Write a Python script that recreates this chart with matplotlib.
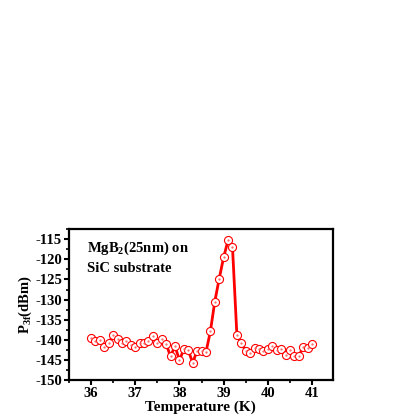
import matplotlib
matplotlib.use("Agg")
import matplotlib.pyplot as plt
from matplotlib.ticker import MultipleLocator

temperature = [36.0, 36.1, 36.2, 36.3, 36.4, 36.5, 36.6, 36.7, 36.8, 36.9,
               37.0, 37.1, 37.2, 37.3, 37.4, 37.5, 37.6, 37.7, 37.8, 37.9,
               38.0, 38.1, 38.2, 38.3, 38.4, 38.5, 38.6, 38.7, 38.8, 38.9,
               39.0, 39.1, 39.2, 39.3, 39.4, 39.5, 39.6, 39.7, 39.8, 39.9,
               40.0, 40.1, 40.2, 40.3, 40.4, 40.5, 40.6, 40.7, 40.8, 40.9, 41.0]
p3f = [-139.6, -140.4, -140.1, -141.7, -140.8, -138.9, -139.7, -140.8, -140.3, -141.2,
       -141.8, -140.9, -140.8, -140.2, -139.0, -140.7, -139.7, -141.1, -144.1, -141.5,
       -145.1, -142.3, -142.6, -145.7, -142.7, -142.7, -143.1, -137.9, -130.5, -124.8,
       -119.5, -115.3, -116.9, -138.8, -140.8, -142.7, -143.2, -142.0, -142.3, -142.7,
       -142.2, -141.5, -142.5, -142.2, -143.7, -142.5, -144.0, -144.1, -141.7, -142.1, -141.1]

x_ticks = [36, 37, 38, 39, 40, 41]
y_ticks = [-150, -145, -140, -135, -130, -125, -120, -115]

plt.rcParams['font.family'] = ['Liberation Serif', 'DejaVu Serif']
plt.rcParams['font.weight'] = 'bold'
plt.rcParams['mathtext.fontset'] = 'custom'
plt.rcParams['mathtext.rm'] = 'Liberation Serif:bold'
plt.rcParams['mathtext.bf'] = 'Liberation Serif:bold'
plt.rcParams['mathtext.it'] = 'Liberation Serif:bold'
plt.rcParams['mathtext.default'] = 'bf'

fig = plt.figure(figsize=(4.15, 4.15), dpi=100)
ax = fig.add_axes([0.166, 0.084, 0.636, 0.364])

ax.plot(temperature, p3f, color='#ff0000', lw=2.0, zorder=2)
ax.plot(temperature, p3f, linestyle='none', marker='o', markersize=5.8,
        markerfacecolor='white', markeredgecolor='#ff0000', markeredgewidth=0.8, zorder=3)
ax.plot(temperature, p3f, linestyle='none', marker='.', markersize=1.2,
        color='#ff6060', zorder=4)

ax.set_xlim(35.5, 41.47)
ax.set_ylim(-150, -112.5)
ax.set_xticks(x_ticks)
ax.set_yticks(y_ticks)
ax.set_yticklabels([str(v) for v in y_ticks])
ax.xaxis.set_minor_locator(MultipleLocator(0.5))
ax.yaxis.set_minor_locator(MultipleLocator(2.5))
ax.tick_params(which='major', direction='out', length=3.5, width=1.5, labelsize=10.5, pad=1.5)
ax.tick_params(which='minor', direction='out', length=2, width=1.2)
for lab in ax.get_xticklabels() + ax.get_yticklabels():
    lab.set_fontweight('bold')
for s in ax.spines.values():
    s.set_linewidth(1.6)

ax.set_xlabel('Temperature (K)', fontsize=11, fontweight='bold', labelpad=0)
ax.set_ylabel(r'P$_{3f}$(dBm)', fontsize=10.5, fontweight='bold', labelpad=1)
ax.text(0.07, 0.93, r'MgB$_{2}$(25nm) on', transform=ax.transAxes,
        fontsize=10.5, fontweight='bold', va='top', ha='left')
ax.text(0.07, 0.78, 'SiC substrate', transform=ax.transAxes,
        fontsize=10.5, fontweight='bold', va='top', ha='left')

fig.savefig('out.png', dpi=100)
